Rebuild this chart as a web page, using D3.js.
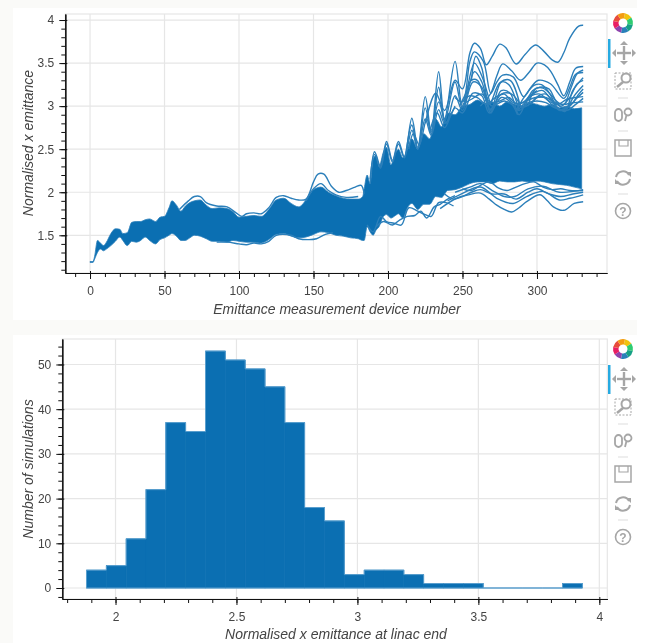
<!DOCTYPE html>
<html>
<head>
<meta charset="utf-8">
<script src="https://cdn.jsdelivr.net/npm/d3@7"></script>
<style>
    html, body { margin: 0; padding: 0; background: #fff; }
    svg { display: block; filter: blur(0.45px); }
    text { font-family: "Liberation Sans", Arial, sans-serif; }
</style>
</head>
<body>
<svg id="chart" width="646" height="643"></svg>
<script>
// 위쪽 차트: 촘촘한 선 묶음의 아래/위 경계
const coreDevices = [0, 2, 3, 5, 7, 9, 11, 14, 17, 20, 22, 25, 28, 31, 34, 37, 40, 44, 47, 50, 53, 55, 58, 61, 64, 67, 70, 74, 78, 82, 87, 92, 96, 100, 105, 110, 115, 120, 125, 130, 135, 140, 145, 150, 155, 160, 165, 170, 175, 180, 183, 184, 186, 188, 190, 192, 194, 197, 199, 202, 205, 207, 210, 213, 216, 220, 224, 228, 232, 236, 240, 245, 250, 255, 260, 265, 270, 275, 280, 285, 290, 295, 300, 305, 310, 315, 320, 325, 330];
const coreLow = [1.185, 1.185, 1.22, 1.30, 1.34, 1.32, 1.34, 1.38, 1.43, 1.48, 1.44, 1.38, 1.43, 1.42, 1.44, 1.48, 1.44, 1.40, 1.45, 1.47, 1.50, 1.52, 1.49, 1.44, 1.44, 1.47, 1.50, 1.49, 1.46, 1.43, 1.43, 1.42, 1.44, 1.43, 1.42, 1.42, 1.41, 1.45, 1.51, 1.52, 1.49, 1.47, 1.48, 1.51, 1.54, 1.53, 1.50, 1.49, 1.47, 1.46, 1.44, 1.44, 1.60, 1.54, 1.50, 1.56, 1.60, 1.72, 1.74, 1.70, 1.73, 1.75, 1.70, 1.82, 1.87, 1.80, 1.86, 1.86, 1.95, 1.94, 2.02, 2.03, 2.06, 2.10, 2.12, 2.12, 2.10, 2.13, 2.12, 2.12, 2.13, 2.12, 2.13, 2.12, 2.10, 2.09, 2.08, 2.06, 2.04];
const coreHigh = [1.195, 1.195, 1.25, 1.44, 1.41, 1.38, 1.42, 1.52, 1.575, 1.57, 1.52, 1.53, 1.65, 1.66, 1.66, 1.68, 1.69, 1.66, 1.71, 1.72, 1.82, 1.90, 1.85, 1.78, 1.84, 1.88, 1.90, 1.91, 1.85, 1.81, 1.82, 1.81, 1.77, 1.71, 1.72, 1.73, 1.72, 1.80, 1.91, 1.93, 1.87, 1.83, 1.91, 2.03, 2.06, 2.00, 1.96, 1.93, 1.92, 1.92, 1.95, 2.04, 2.20, 2.10, 2.38, 2.43, 2.30, 2.47, 2.52, 2.32, 2.45, 2.50, 2.40, 2.50, 2.62, 2.50, 2.68, 2.62, 2.85, 2.76, 2.92, 2.90, 3.00, 3.02, 3.07, 3.03, 3.05, 3.00, 3.05, 3.02, 3.00, 3.04, 3.02, 3.00, 3.02, 2.98, 3.00, 2.97, 2.98];

// 묶음 밖으로 튀어나온 개별 선들 [장치 번호, 에미턴스]
const lineEarlyHigh = [[60, 1.80], [66, 1.90], [70, 1.95], [74, 1.95], [78, 1.88], [85, 1.84], [92, 1.83], [98, 1.76], [102, 1.72], [105, 1.75], [110, 1.76], [115, 1.75], [120, 1.82], [125, 1.94], [130, 1.96], [135, 1.93], [140, 1.91], [145, 1.92], [150, 2.12], [153, 2.21], [157, 2.21], [162, 2.07], [167, 2.00], [172, 2.02], [178, 2.06], [182, 2.08], [184, 1.98]];
const lineEarlyHigh2 = [[145, 1.90], [150, 2.04], [155, 2.10], [160, 2.02], [165, 1.97], [172, 1.94], [180, 1.95]];
const lineEarlyLow = [[85, 1.42], [92, 1.42], [100, 1.40], [105, 1.39], [110, 1.41], [115, 1.40], [120, 1.43], [125, 1.50], [135, 1.50], [140, 1.46], [147, 1.45], [152, 1.46], [158, 1.51], [163, 1.53]];
const lineTop1 = [[225, 2.80], [232, 3.15], [238, 2.95], [245, 3.30], [250, 3.20], [255, 3.62], [258, 3.73], [262, 3.67], [266, 3.48], [270, 3.58], [275, 3.72], [279, 3.68], [286, 3.49], [292, 3.60], [299, 3.71], [305, 3.63], [310, 3.54], [314, 3.51], [318, 3.62], [322, 3.79], [328, 3.93], [331, 3.94]];
const lineTop2 = [[262, 3.00], [269, 3.15], [273, 3.35], [277, 3.49], [283, 3.41], [289, 3.30], [295, 3.40], [300, 3.50], [305, 3.48], [309, 3.41], [314, 3.25], [318, 3.12], [322, 3.28], [326, 3.44], [331, 3.46]];
const lineTop3 = [[245, 3.10], [250, 3.05], [255, 3.52], [258, 3.63], [264, 3.52], [269, 3.15], [273, 3.28], [277, 3.36], [284, 3.34], [291, 3.11], [296, 3.22], [301, 3.30], [309, 3.26], [318, 3.09], [322, 3.22], [326, 3.37], [331, 3.39]];
const lineSpike1 = [[188, 2.10], [191, 2.47], [195, 2.30], [199, 2.59], [203, 2.37], [207, 2.59], [211, 2.41], [216, 2.86], [220, 2.52], [225, 3.11], [229, 2.70], [234, 3.40], [238, 2.85], [245, 3.52], [250, 3.00], [258, 3.50], [263, 3.35], [269, 3.00]];
const lineSpike2 = [[212, 2.45], [216, 2.78], [220, 2.50], [225, 2.98], [229, 2.68], [234, 3.22], [238, 2.82], [245, 3.28], [250, 2.98], [258, 3.40], [263, 3.28], [269, 2.95], [276, 3.28], [281, 3.25], [288, 2.95]];
const lineSpike3 = [[214, 2.50], [217, 2.68], [221, 2.55], [226, 2.85], [229, 2.72], [234, 3.05], [239, 2.80], [245, 3.12], [250, 2.95], [257, 3.28], [263, 3.22], [269, 2.92], [276, 3.18], [282, 3.15], [288, 2.90], [294, 3.10], [300, 3.18]];
const lineSpike4 = [[228, 2.70], [233, 2.92], [238, 2.75], [245, 2.98], [250, 2.92], [257, 3.15], [263, 3.12], [268, 2.92], [276, 3.10], [282, 3.05], [287, 2.90]];
const lineSpike5 = [[188, 2.15], [191, 2.44], [195, 2.28], [199, 2.56], [203, 2.35], [207, 2.56], [211, 2.40], [216, 2.72], [220, 2.50], [225, 2.85], [229, 2.66], [234, 2.96], [238, 2.80], [245, 3.00]];
const lineSpike6 = [[256, 3.30], [259, 3.58], [263, 3.44], [268, 3.02], [275, 3.27], [282, 3.30], [289, 2.98]];
const lineSpike7 = [[248, 3.00], [252, 3.14], [256, 3.30], [260, 3.30], [265, 3.10], [270, 3.00], [276, 3.14], [283, 3.14], [290, 2.98]];
const lineArc1 = [[286, 2.95], [292, 3.12], [298, 3.24], [303, 3.25], [308, 3.16], [314, 2.98], [319, 2.94], [324, 3.18], [331, 3.33]];
const lineArc2 = [[287, 2.95], [293, 3.06], [299, 3.16], [304, 3.18], [310, 3.06], [315, 2.95], [320, 2.98], [325, 3.12], [331, 3.24]];
const lineArc3 = [[290, 2.98], [295, 3.02], [300, 3.10], [305, 3.10], [311, 3.00], [316, 2.96], [322, 3.00], [326, 3.08], [331, 3.16]];
const lineArc4 = [[268, 2.95], [273, 3.02], [278, 3.06], [283, 3.02], [288, 2.95], [294, 3.04], [300, 3.06], [306, 3.04], [312, 2.98], [320, 2.95], [326, 3.02], [331, 3.09]];
const lineArc5 = [[292, 3.00], [297, 3.18], [302, 3.22], [308, 3.20], [313, 3.06], [318, 3.02], [323, 3.22], [327, 3.38], [331, 3.42]];
const lineArc6 = [[294, 3.00], [299, 3.20], [304, 3.21], [310, 3.12], [316, 3.00], [322, 3.10], [327, 3.26], [331, 3.30]];
const lineArc7 = [[296, 3.02], [301, 3.12], [306, 3.14], [312, 3.04], [318, 2.98], [324, 3.04], [328, 3.14], [331, 3.20]];
const lineFringe1 = [[250, 3.05], [255, 3.12], [260, 3.10], [266, 3.02], [272, 3.10], [278, 3.14], [284, 3.04], [290, 3.04], [296, 3.12], [302, 3.14], [308, 3.06], [314, 3.02], [320, 3.08], [326, 3.10], [331, 3.11]];
const lineFringe2 = [[250, 3.02], [256, 3.08], [263, 3.14], [269, 3.04], [275, 3.06], [281, 3.10], [287, 3.02], [293, 3.06], [299, 3.10], [306, 3.10], [312, 3.04], [318, 3.02], [324, 3.04], [331, 3.05]];
const lineLow1 = [[235, 1.81], [246, 1.93], [254, 1.97], [262, 1.99], [268, 1.92], [273, 1.85], [278, 1.80], [283, 1.77], [288, 1.82], [293, 1.89], [302, 1.97], [307, 1.90], [311, 1.83], [318, 1.79], [325, 1.87], [331, 1.89]];
const lineLow2 = [[240, 1.90], [248, 1.97], [262, 2.06], [273, 1.93], [284, 1.87], [293, 1.95], [304, 2.01], [315, 1.91], [322, 1.93], [331, 1.97]];
const lineLow3 = [[245, 2.00], [255, 2.06], [262, 2.10], [270, 2.02], [278, 1.95], [285, 1.95], [294, 2.04], [304, 2.07], [315, 2.00], [331, 2.03]];
const lineLow4 = [[192, 1.60], [197, 1.66], [203, 1.62], [208, 1.68], [213, 1.72], [218, 1.73], [222, 1.78], [226, 1.70], [231, 1.83], [235, 1.86], [240, 1.92], [245, 1.96]];
const lineLow5 = [[186, 1.62], [190, 1.54], [195, 1.72], [199, 1.66], [204, 1.64], [209, 1.62], [214, 1.82], [220, 1.78], [225, 1.74], [229, 1.72], [234, 1.88], [239, 1.88], [244, 1.84]];
const lineLow6 = [[250, 2.04], [256, 2.02], [262, 2.08], [268, 2.12], [274, 2.05], [280, 2.02], [286, 2.06], [292, 2.10], [298, 2.12], [304, 2.06], [310, 2.03], [316, 2.04], [322, 2.02], [331, 2.02]];
const lineLow7 = [[238, 1.98], [244, 1.92], [250, 1.95], [256, 2.00], [262, 2.03], [270, 1.98], [278, 1.98], [286, 1.92], [294, 2.00], [300, 2.04], [308, 1.98], [316, 1.95], [324, 1.98], [331, 2.00]];
const outlierLines = [lineEarlyHigh, lineEarlyHigh2, lineEarlyLow, lineTop1, lineTop2, lineTop3, lineSpike1, lineSpike2, lineSpike3, lineSpike4, lineSpike5, lineSpike6, lineSpike7, lineArc1, lineArc2, lineArc3, lineArc4, lineArc5, lineArc6, lineArc7, lineFringe1, lineFringe2, lineLow1, lineLow2, lineLow3, lineLow4, lineLow5, lineLow6, lineLow7];

// 아래쪽 히스토그램
const binEdgeStart = 1.88;
const binEdgeEnd = 3.93;
const binCounts = [4, 5, 11, 22, 37, 35, 53, 51, 49, 45, 37, 18, 15, 3, 4, 4, 3, 1, 1, 1, 0, 0, 0, 0, 1];

// 축 눈금
const topXTicks = [0, 50, 100, 150, 200, 250, 300];
const topYTicks = [1.5, 2, 2.5, 3, 3.5, 4];
const bottomXTicks = [2, 2.5, 3, 3.5, 4];
const bottomYTicks = [0, 10, 20, 30, 40, 50];

const gridColor = '#e6e6e6';
const lineColor = '#2b7fba';
const fillColor = '#0b6fb2';
const edgeColor = '#5a9fce';

const svg = d3.select('#chart');

// 배경
svg.append('rect').attr('width', 637).attr('height', 643).attr('fill', '#fafaf8');
svg.append('rect').attr('x', 13).attr('y', 8).attr('width', 624).attr('height', 312).attr('fill', '#fff');
svg.append('rect').attr('x', 13).attr('y', 335).attr('width', 624).attr('height', 308).attr('fill', '#fff');

// 그리드, 테두리, 축을 그리는 공통 함수
function drawFrame(box, x, y, opts) {
    const g = svg.append('g');
    g.selectAll('.gx').data(opts.xTicks).enter().append('line')
        .attr('x1', d => x(d)).attr('x2', d => x(d))
        .attr('y1', box.top).attr('y2', box.bottom)
        .attr('stroke', gridColor).attr('stroke-width', 1.2);
    g.selectAll('.gy').data(opts.yTicks).enter().append('line')
        .attr('x1', box.left).attr('x2', box.right)
        .attr('y1', d => y(d)).attr('y2', d => y(d))
        .attr('stroke', gridColor).attr('stroke-width', 1.2);
    g.append('rect')
        .attr('x', box.left).attr('y', box.top)
        .attr('width', box.right - box.left).attr('height', box.bottom - box.top)
        .attr('fill', 'none').attr('stroke', gridColor).attr('stroke-width', 1.2);
}

function drawAxes(box, x, y, opts) {
    const minorX = svg.append('g').attr('transform', `translate(0,${box.bottom})`)
        .call(d3.axisBottom(x).tickValues(opts.xMinor).tickSizeInner(4).tickSizeOuter(0).tickFormat(''));
    const majorX = svg.append('g').attr('transform', `translate(0,${box.bottom})`)
        .call(d3.axisBottom(x).tickValues(opts.xTicks).tickSizeInner(6).tickSizeOuter(0).tickPadding(7).tickFormat(d3.format('~g')));
    const minorY = svg.append('g').attr('transform', `translate(${box.left},0)`)
        .call(d3.axisLeft(y).tickValues(opts.yMinor).tickSizeInner(4).tickSizeOuter(0).tickFormat(''));
    const majorY = svg.append('g').attr('transform', `translate(${box.left},0)`)
        .call(d3.axisLeft(y).tickValues(opts.yTicks).tickSizeInner(6).tickSizeOuter(0).tickPadding(5).tickFormat(d3.format('~g')));

    majorX.selectAll('.tick line').attr('y1', -2);
    majorY.selectAll('.tick line').attr('x1', 2);
    [minorX, majorX, minorY, majorY].forEach(a => {
        a.selectAll('.domain').attr('stroke', '#111').attr('stroke-width', 1.2);
        a.selectAll('.tick line').attr('stroke', '#111');
        a.selectAll('text').attr('font-size', 12).attr('fill', '#444')
            .style('font-family', '"Liberation Sans", Arial, sans-serif');
    });

    svg.append('text')
        .attr('x', opts.xLabelX).attr('y', opts.xLabelY)
        .attr('text-anchor', 'middle')
        .attr('font-size', 14).attr('font-style', 'italic').attr('fill', '#444')
        .text(opts.xLabel);
    svg.append('text')
        .attr('transform', `translate(33,${opts.yLabelY}) rotate(-90)`)
        .attr('text-anchor', 'middle')
        .attr('font-size', 14).attr('font-style', 'italic').attr('fill', '#444')
        .text(opts.yLabel);
}

// Bokeh 툴바
function drawToolbar(dy) {
    const t = svg.append('g').attr('transform', `translate(623,${dy})`);
    const gray = '#a6a6a6';
    const logoColors = ['#f1c40f', '#2ecc71', '#16a085', '#2980b9', '#8e44ad', '#e91e63', '#e74c3c', '#f39c12'];
    const arc = d3.arc().innerRadius(4.5).outerRadius(10);
    const pie = d3.pie().value(1).sort(null).startAngle(0.2).endAngle(0.2 + Math.PI * 2)(logoColors);
    t.append('g').attr('transform', 'translate(0,23)')
        .selectAll('path').data(pie).enter().append('path')
        .attr('d', arc).attr('fill', d => d.data);

    svg.append('rect').attr('x', 608).attr('y', dy + 39).attr('width', 2.5).attr('height', 29).attr('fill', '#26aae1');

    // 이동
    const pan = t.append('g').attr('transform', 'translate(1,53)').attr('stroke', gray).attr('stroke-width', 2.4).attr('fill', gray);
    pan.append('line').attr('x1', -7).attr('x2', 7);
    pan.append('line').attr('y1', -7).attr('y2', 7);
    pan.append('path').attr('stroke', 'none').attr('d', 'M-8-4L-12 0L-8 4ZM8-4L12 0L8 4ZM-4-8L0-12L4-8ZM-4 8L0 12L4 8Z');

    // 박스 줌
    const box = t.append('g').attr('transform', 'translate(0,81)').attr('fill', 'none').attr('stroke', gray);
    box.append('rect').attr('x', -8).attr('y', -8).attr('width', 16).attr('height', 16).attr('stroke-dasharray', '2,1.5').attr('stroke-width', 1);
    box.append('circle').attr('cx', 3).attr('cy', -3).attr('r', 4.5).attr('stroke-width', 2).attr('fill', '#fff');
    box.append('line').attr('x1', 0).attr('y1', 1).attr('x2', -6).attr('y2', 6).attr('stroke-width', 2.5);

    // 휠 줌
    const wheel = t.append('g').attr('transform', 'translate(0,115)').attr('fill', 'none').attr('stroke', gray).attr('stroke-width', 1.8);
    wheel.append('rect').attr('x', -8).attr('y', -6).attr('width', 7).attr('height', 12).attr('rx', 3.5);
    wheel.append('circle').attr('cx', 5).attr('cy', -3).attr('r', 3.5);
    wheel.append('line').attr('x1', 3.5).attr('y1', 0).attr('x2', 2).attr('y2', 6);

    // 저장
    const save = t.append('g').attr('transform', 'translate(0,148)').attr('fill', 'none').attr('stroke', gray).attr('stroke-width', 1.5);
    save.append('rect').attr('x', -8).attr('y', -8).attr('width', 16).attr('height', 16);
    save.append('path').attr('d', 'M-4-8V-2H5V-8').attr('stroke-width', 1.2);

    // 리셋
    const reset = t.append('g').attr('transform', 'translate(0,178)').attr('fill', 'none').attr('stroke', gray).attr('stroke-width', 2);
    reset.append('path').attr('d', 'M-7-1A7 7 0 0 1 6-3M7 1A7 7 0 0 1-6 3');
    reset.append('path').attr('d', 'M3-6L8-1L8-6ZM-3 6L-8 1L-8 6Z').attr('fill', gray).attr('stroke', 'none');

    // 도움말
    const help = t.append('g').attr('transform', 'translate(0,211)');
    help.append('circle').attr('r', 7.5).attr('fill', 'none').attr('stroke', gray).attr('stroke-width', 1.6);
    help.append('text').attr('y', 4.5).attr('text-anchor', 'middle').attr('font-size', 12).attr('font-weight', 'bold').attr('fill', gray).text('?');

    // 구분선
    t.selectAll('.sep').data([98, 131, 194]).enter().append('line')
        .attr('x1', -5).attr('x2', 5).attr('y1', d => d).attr('y2', d => d)
        .attr('stroke', '#ddd');
}

// ---- 위쪽 차트 ----
const topBox = { left: 65.3, right: 607, top: 14, bottom: 273 };
const topX = d3.scaleLinear().domain([-16.6, 347]).range([topBox.left, topBox.right]);
const topY = d3.scaleLinear().domain([1.062, 4.07]).range([topBox.bottom, topBox.top]);

const topOpts = {
    xTicks: topXTicks,
    yTicks: topYTicks,
    xMinor: d3.range(-10, 341, 10),
    yMinor: d3.range(1.1, 4.05, 0.1),
    xLabel: 'Emittance measurement device number',
    yLabel: 'Normalised x emittance',
    xLabelX: 337, xLabelY: 314, yLabelY: 143
};
drawFrame(topBox, topX, topY, topOpts);

const bandArea = d3.area()
    .x((d, i) => topX(coreDevices[i]))
    .y0((d, i) => topY(coreLow[i]))
    .y1((d, i) => topY(coreHigh[i]))
    .curve(d3.curveMonotoneX);
svg.append('path')
    .attr('d', bandArea(coreDevices))
    .attr('fill', fillColor)
    .attr('stroke', lineColor)
    .attr('stroke-width', 0.8);

const outlierPath = d3.line()
    .x(d => topX(d[0]))
    .y(d => topY(d[1]))
    .curve(d3.curveCatmullRom);
svg.append('g').selectAll('path').data(outlierLines).enter().append('path')
    .attr('d', outlierPath)
    .attr('fill', 'none')
    .attr('stroke', lineColor)
    .attr('stroke-width', 1.4);

drawAxes(topBox, topX, topY, topOpts);
drawToolbar(0);

// ---- 아래쪽 차트 ----
const bottomBox = { left: 62.3, right: 607.3, top: 339, bottom: 599 };
const bottomX = d3.scaleLinear().domain([1.78, 4.033]).range([bottomBox.left, bottomBox.right]);
const bottomY = d3.scaleLinear().domain([-2.46, 55.7]).range([bottomBox.bottom, bottomBox.top]);

const bottomOpts = {
    xTicks: bottomXTicks,
    yTicks: bottomYTicks,
    xMinor: d3.range(1.8, 4.05, 0.1),
    yMinor: d3.range(-2, 55, 2),
    xLabel: 'Normalised x emittance at linac end',
    yLabel: 'Number of simulations',
    xLabelX: 336, xLabelY: 639, yLabelY: 469
};
drawFrame(bottomBox, bottomX, bottomY, bottomOpts);

const binWidth = (binEdgeEnd - binEdgeStart) / binCounts.length;
svg.append('g').selectAll('rect').data(binCounts).enter().append('rect')
    .attr('x', (d, i) => bottomX(binEdgeStart + i * binWidth))
    .attr('width', bottomX(binEdgeStart + binWidth) - bottomX(binEdgeStart))
    .attr('y', d => bottomY(d))
    .attr('height', d => bottomY(0) - bottomY(d))
    .attr('fill', fillColor)
    .attr('stroke', fillColor)
    .attr('stroke-width', 0.6);

// 히스토그램 바깥 테두리만 밝게
const outlineArea = d3.area()
    .x((d, i) => bottomX(binEdgeStart + i * binWidth))
    .y0(bottomY(0))
    .y1(d => bottomY(d))
    .curve(d3.curveStepAfter);
svg.append('path')
    .attr('d', outlineArea(binCounts.concat(binCounts[binCounts.length - 1])))
    .attr('fill', 'none')
    .attr('stroke', edgeColor)
    .attr('stroke-width', 1);

drawAxes(bottomBox, bottomX, bottomY, bottomOpts);
drawToolbar(326);
</script>
</body>
</html>
